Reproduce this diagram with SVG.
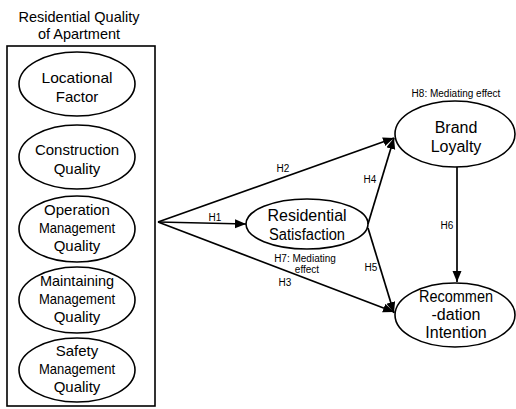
<svg xmlns="http://www.w3.org/2000/svg" width="516" height="409" viewBox="0 0 516 409">
<style>
.n{fill:#fff;stroke:#000;stroke-width:1.6}
.t{font-family:"Liberation Sans",Arial,sans-serif;font-size:15px;text-anchor:middle;fill:#000}
.b{font-size:16px}
.h{font-size:14.5px}
.l{font-family:"Liberation Sans",Arial,sans-serif;font-size:10px;text-anchor:middle;fill:#000}
.c{stroke:#000;stroke-width:1.7;fill:none}
</style>
<defs>
<marker id="ah" markerUnits="userSpaceOnUse" markerWidth="12" markerHeight="10" refX="11" refY="4.5" orient="auto">
<path d="M0,0 L11,4.5 L0,9 z" fill="#000"/>
</marker>
</defs>
<g id="group-residential-quality">
<text class="t h" x="79" y="22">Residential Quality</text>
<text class="t h" x="79" y="39">of Apartment</text>
<rect x="7" y="46" width="148" height="360" fill="#fff" stroke="#000" stroke-width="1.6"/>
</g>
<g id="locational-factor">
<ellipse class="n" cx="77" cy="84" rx="58" ry="32"/>
<text class="t" x="77" y="83" textLength="71" lengthAdjust="spacingAndGlyphs">Locational</text>
<text class="t" x="77" y="102">Factor</text>
</g>
<g id="construction-quality">
<ellipse class="n" cx="77" cy="157" rx="58" ry="32"/>
<text class="t" x="77" y="155">Construction</text>
<text class="t" x="77" y="174">Quality</text>
</g>
<g id="operation-management-quality">
<ellipse class="n" cx="77" cy="229" rx="58" ry="33"/>
<text class="t" x="77" y="215">Operation</text>
<text class="t" x="77" y="233" textLength="76" lengthAdjust="spacingAndGlyphs">Management</text>
<text class="t" x="77" y="251">Quality</text>
</g>
<g id="maintaining-management-quality">
<ellipse class="n" cx="77" cy="300" rx="58" ry="33"/>
<text class="t" x="77" y="286" textLength="74" lengthAdjust="spacingAndGlyphs">Maintaining</text>
<text class="t" x="77" y="304" textLength="76" lengthAdjust="spacingAndGlyphs">Management</text>
<text class="t" x="77" y="322">Quality</text>
</g>
<g id="safety-management-quality">
<ellipse class="n" cx="77" cy="370" rx="58" ry="32"/>
<text class="t" x="77" y="356">Safety</text>
<text class="t" x="77" y="374" textLength="76" lengthAdjust="spacingAndGlyphs">Management</text>
<text class="t" x="77" y="392">Quality</text>
</g>
<g id="residential-satisfaction">
<ellipse class="n" cx="307" cy="224" rx="61" ry="25"/>
<text class="t b" x="307" y="221">Residential</text>
<text class="t b" x="307" y="240" textLength="76" lengthAdjust="spacingAndGlyphs">Satisfaction</text>
</g>
<g id="brand-loyalty">
<ellipse class="n" cx="455" cy="134" rx="60" ry="33"/>
<text class="t b" x="456" y="133">Brand</text>
<text class="t b" x="456" y="152">Loyalty</text>
</g>
<g id="recommendation-intention">
<ellipse class="n" cx="455" cy="315" rx="60" ry="32"/>
<text class="t b" x="456" y="302" textLength="74" lengthAdjust="spacingAndGlyphs">Recommen</text>
<text class="t b" x="456" y="320">-dation</text>
<text class="t b" x="456" y="338">Intention</text>
</g>
<g id="connectors">
<line class="c" x1="158" y1="222" x2="394" y2="138" marker-end="url(#ah)"/>
<line class="c" x1="158" y1="222" x2="246" y2="224" marker-end="url(#ah)"/>
<line class="c" x1="158" y1="222" x2="394" y2="312" marker-end="url(#ah)"/>
<line class="c" x1="368" y1="224" x2="394" y2="138" marker-end="url(#ah)"/>
<line class="c" x1="368" y1="228" x2="394" y2="313" marker-end="url(#ah)"/>
<line class="c" x1="457" y1="167" x2="457" y2="282" marker-end="url(#ah)"/>
<text class="l" x="283" y="172">H2</text>
<text class="l" x="215" y="221">H1</text>
<text class="l" x="370" y="183">H4</text>
<text class="l" x="305" y="262" font-size="10.5">H7: Mediating</text>
<text class="l" x="307" y="273" font-size="10.5">effect</text>
<text class="l" x="285" y="286">H3</text>
<text class="l" x="371" y="271">H5</text>
<text class="l" x="447" y="229">H6</text>
<text class="l" x="456" y="97">H8: Mediating effect</text>
</g>
</svg>
